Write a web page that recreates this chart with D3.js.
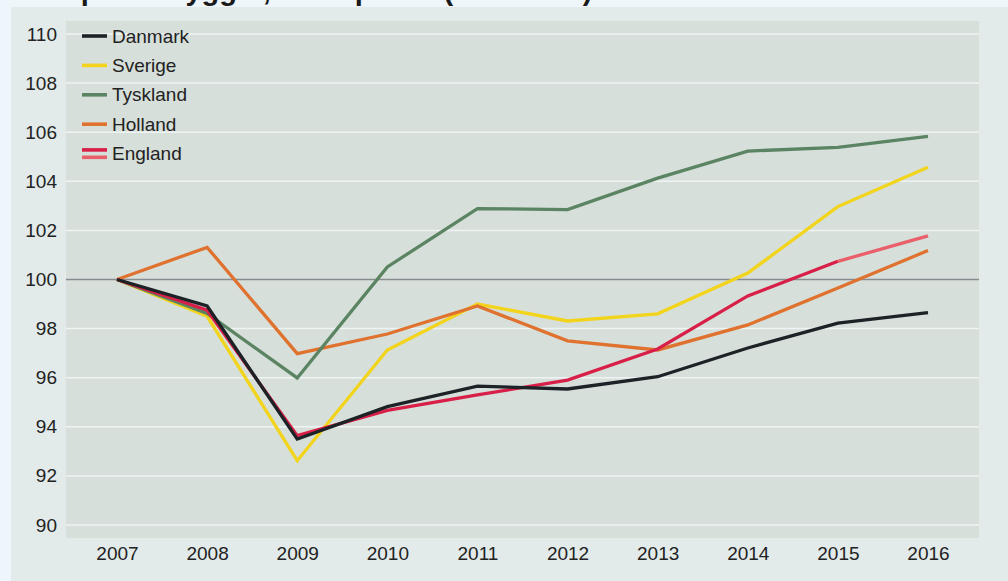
<!DOCTYPE html>
<html>
<head>
<meta charset="utf-8">
<script src="https://cdn.jsdelivr.net/npm/d3@7"></script>
<style>
  body { margin: 0; background: #eef5fb; }
  svg { display: block; font-family: "Liberation Sans", Arial, sans-serif; }
</style>
</head>
<body>
<svg width="1008" height="581"></svg>
<script>
// data (2007 = 100)
var years = [2007, 2008, 2009, 2010, 2011, 2012, 2013, 2014, 2015, 2016];
var danmark  = [100, 98.92, 93.5, 94.82, 95.66, 95.54, 96.04, 97.21, 98.22, 98.65];
var sverige  = [100, 98.5, 92.62, 97.13, 99.0, 98.31, 98.6, 100.26, 102.97, 104.57];
var tyskland = [100, 98.62, 95.99, 100.51, 102.89, 102.85, 104.13, 105.23, 105.38, 105.83];
var holland  = [100, 101.31, 96.98, 97.78, 98.92, 97.5, 97.13, 98.15, 99.65, 101.18];
var england  = [100, 98.75, 93.64, 94.67, 95.3, 95.9, 97.17, 99.33, 100.74, 101.78];
var yTicks = [90, 92, 94, 96, 98, 100, 102, 104, 106, 108, 110];
var titel = "BNP pr. indbygger, faste priser (2007=100)";

var serier = [
  {navn: "Danmark",  v: danmark,  farve: "#1c2226"},
  {navn: "Sverige",  v: sverige,  farve: "#f2d41c"},
  {navn: "Tyskland", v: tyskland, farve: "#5b8462"},
  {navn: "Holland",  v: holland,  farve: "#e0722f"},
  {navn: "England",  v: england,  farve: "#d81f48", farve2: "#e9606a"}
];

var svg = d3.select("svg");

// baggrund + titel (titlen er skaaret af i toppen, som i originalen)
svg.append("rect").attr("x", 0).attr("y", 0).attr("width", 1008).attr("height", 581).style("fill", "#eef5fb");
svg.append("text")
  .attr("x", 12).attr("y", -0.5)
  .attr("font-size", 29).attr("font-weight", "bold")
  .attr("fill", "#1a1a1a")
  .text(titel);
svg.append("rect").attr("x", 11).attr("y", 7).attr("width", 997).attr("height", 574).style("fill", "#e2ebea");

var plot = {left: 66, right: 979, top: 21, bottom: 538};
svg.append("rect")
  .attr("x", plot.left).attr("y", plot.top)
  .attr("width", plot.right - plot.left).attr("height", plot.bottom - plot.top)
  .style("fill", "#d7dfda");

var x = d3.scalePoint().domain(years).range([117, 928]);
var y = d3.scaleLinear().domain([90, 110]).range([525, 34]);

// gitterlinier
svg.append("g").selectAll("line")
  .data(yTicks.filter(function(d){ return d != 100; }))
  .enter().append("line")
  .attr("x1", plot.left).attr("x2", plot.right)
  .attr("y1", function(d){ return y(d); }).attr("y2", function(d){ return y(d); })
  .style("stroke", "#eef3f3").style("stroke-width", 1.5);

svg.append("line")
  .attr("x1", plot.left).attr("x2", plot.right)
  .attr("y1", y(100)).attr("y2", y(100))
  .style("stroke", "#868c8f").style("stroke-width", 1.6);

// akser
var yAxis = svg.append("g")
  .attr("transform", "translate(" + plot.left + ",0)")
  .call(d3.axisLeft(y).tickValues(yTicks).tickSize(0).tickPadding(9));
var xAxis = svg.append("g")
  .attr("transform", "translate(0," + plot.bottom + ")")
  .call(d3.axisBottom(x).tickSize(0).tickPadding(9).tickFormat(d3.format("d")));
[yAxis, xAxis].forEach(function(a){
  a.select(".domain").remove();
  a.selectAll("text")
    .attr("font-family", "Liberation Sans, Arial, sans-serif")
    .attr("font-size", 19)
    .attr("fill", "#222");
});

// linier
var line = d3.line()
  .x(function(d){ return x(d.aar); })
  .y(function(d){ return y(d.v); });

var tegneOrden = ["Sverige", "Holland", "Tyskland", "England", "Danmark"];
tegneOrden.forEach(function(navn){
  var s = serier.find(function(d){ return d.navn == navn; });
  var pts = years.map(function(a, i){ return {aar: a, v: s.v[i]}; });
  var n = s.farve2 ? pts.length - 1 : pts.length;
  svg.append("path")
    .attr("d", line(pts.slice(0, n)))
    .style("fill", "none")
    .style("stroke", s.farve)
    .style("stroke-width", 3.3)
    .style("stroke-linejoin", "miter");
  if (s.farve2) {
    svg.append("path")
      .attr("d", line(pts.slice(n - 1)))
      .style("fill", "none")
      .style("stroke", s.farve2)
      .style("stroke-width", 3.3);
  }
});

// forklaring
var leg = svg.append("g").attr("transform", "translate(82,36)");
serier.forEach(function(s, i){
  var g = leg.append("g").attr("transform", "translate(0," + (i * 29.4) + ")");
  if (s.farve2) {
    g.append("line").attr("x1", 0).attr("x2", 25).attr("y1", -3.7).attr("y2", -3.7)
      .style("stroke", s.farve).style("stroke-width", 3.6);
    g.append("line").attr("x1", 0).attr("x2", 25).attr("y1", 3.7).attr("y2", 3.7)
      .style("stroke", s.farve2).style("stroke-width", 3.6);
  } else {
    g.append("line").attr("x1", 0).attr("x2", 25).attr("y1", 0).attr("y2", 0)
      .style("stroke", s.farve).style("stroke-width", 3.6);
  }
  g.append("text")
    .attr("x", 30).attr("y", 6.5)
    .attr("font-size", 19)
    .attr("fill", "#222")
    .text(s.navn);
});
</script>
</body>
</html>
